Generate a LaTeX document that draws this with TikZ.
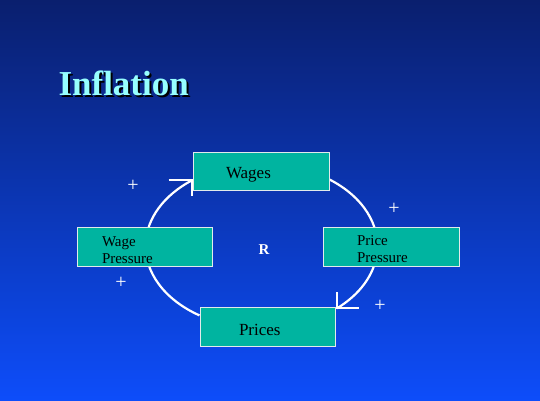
\documentclass[tikz,border=0pt]{standalone}
\usepackage{fontspec}
\setmainfont{Liberation Serif}
\usetikzlibrary{backgrounds}
\definecolor{bgtop}{RGB}{10,31,110}
\definecolor{bgbot}{RGB}{13,77,250}
\definecolor{boxfill}{RGB}{0,180,160}
\definecolor{boxline}{RGB}{225,235,235}
\definecolor{titlecol}{RGB}{150,255,255}
\newcommand{\oneline}[3]{\hspace*{#1}\raisebox{-#2}[0pt][0pt]{#3}}
\newcommand{\twolines}[4]{\hspace*{#1}\raisebox{-#2}[0pt][0pt]{\begin{tabular}[b]{@{}l@{}}#3\\#4\end{tabular}}}
\tikzset{
  box/.style={draw=boxline, line width=1pt, fill=boxfill, inner sep=0pt, align=left},
  bigtxt/.style={font=\fontsize{17}{20}\selectfont},
  smalltxt/.style={font=\fontsize{15}{17}\selectfont},
  cyc/.style={draw=white, line width=2.2pt},
  barb/.style={draw=white, line width=2pt},
  plus/.style={text=white, font=\fontsize{20}{20}\selectfont, inner sep=0pt},
}
\begin{document}
\begin{tikzpicture}[x=1pt,y=1pt]
\useasboundingbox (0,0) rectangle (540,-400);
\begin{scope}[on background layer]
\shade[top color=bgtop, bottom color=bgbot] (0,0) rectangle (540,-400);
\end{scope}
% title with shadow
\node[anchor=base west, text=titlecol, font=\fontsize{35}{40}\selectfont\bfseries] (title) at (55,-95)
  {\makebox[0pt][l]{\hspace{2pt}\raisebox{-2pt}{\textcolor{black}{Inflation}}}Inflation};
% boxes
\node[box, bigtxt, minimum width=136pt, minimum height=38pt, text width=136pt] (wg) at (261,-171) {\oneline{33pt}{7pt}{Wages}};
\node[box, bigtxt, minimum width=135pt, minimum height=39pt, text width=135pt] (pr) at (267.5,-326.5) {\oneline{39pt}{8.5pt}{Prices}};
\node[box, smalltxt, minimum width=135pt, minimum height=39pt, text width=135pt] (wp) at (144.5,-246.5) {\twolines{25pt}{16.5pt}{Wage}{Pressure}};
\node[box, smalltxt, minimum width=136pt, minimum height=39pt, text width=136pt] (pp) at (391,-246.5) {\twolines{34pt}{16pt}{Price}{Pressure}};
% loop
\begin{scope}[on background layer]
\draw[cyc] ([yshift=11.1pt]pr.west) arc[start angle=237.8, end angle=126.9, x radius=115.5pt, y radius=82pt] coordinate (tipw);
\draw[cyc] ([yshift=-8.5pt]wg.east) arc[start angle=54.2, end angle=-49.5, x radius=115.5pt, y radius=82pt] coordinate (tipp);
\end{scope}
% arrow barbs
\draw[barb] ([xshift=-23pt]tipw) -- (tipw) -- ([yshift=-16pt]tipw);
\draw[barb] ([yshift=16pt]tipp) -- (tipp) -- ([xshift=22pt]tipp);
% loop label
\node[text=white, font=\fontsize{15}{15}\selectfont\bfseries] (r) at (264,-250) {R};
% polarity signs
\node[plus] (p1) at (133,-186) {+};
\node[plus] (p2) at (394,-209) {+};
\node[plus] (p3) at (121,-283) {+};
\node[plus] (p4) at (380,-306) {+};
\end{tikzpicture}
\end{document}
